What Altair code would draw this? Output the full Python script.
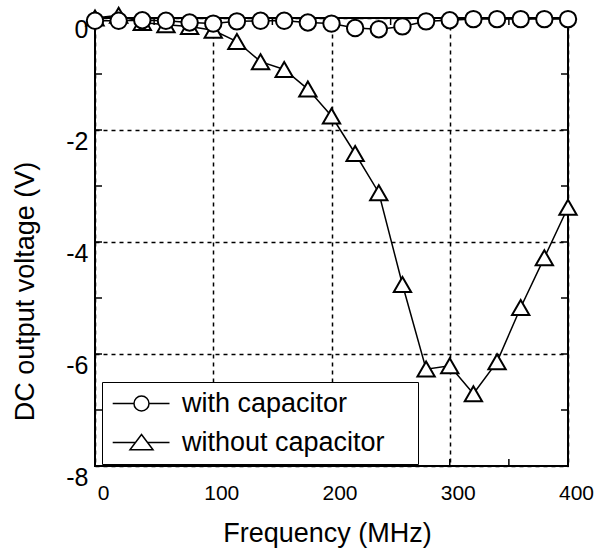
import altair as alt
import pandas as pd

# ---- data ----
freq = [0, 20, 40, 60, 80, 100, 120, 140, 160, 180, 200,
        220, 240, 260, 280, 300, 320, 340, 360, 380, 400]
with_cap = [-0.05, -0.05, -0.04, -0.05, -0.08, -0.1, -0.06, -0.05, -0.05, -0.08, -0.1,
            -0.18, -0.2, -0.15, -0.06, -0.04, -0.02, -0.02, -0.02, -0.02, -0.02]
without_cap = [0.0, 0.05, -0.08, -0.12, -0.15, -0.22, -0.42, -0.78, -0.92, -1.27, -1.75,
               -2.42, -3.12, -4.76, -6.27, -6.21, -6.71, -6.14, -5.17, -4.28, -3.38]
series_names = ["with capacitor", "without capacitor"]

x_ticks = [0, 100, 200, 300, 400]
y_ticks = [-8, -6, -4, -2, 0]
x_minor = [50, 100, 150, 200, 250, 300, 350]
y_minor = [-7, -6, -5, -4, -3, -2, -1]

# legend symbols: a line segment through the marker
circle_path = ("M -3.6 0 L -0.94 0 M 0.94 0 L 3.5 0 "
               "M 0.94 0 A 0.94 0.94 0 1 1 -0.94 0 A 0.94 0.94 0 1 1 0.94 0 Z")
triangle_path = "M -3.6 0 L -0.76 0 M 0.76 0 L 3.5 0 M 0 -1 L 1.44 0.9 L -1.44 0.9 Z"

W, H = 473, 448
FONT = "Liberation Sans"

df = pd.DataFrame({
    "freq": freq * 2,
    "v": with_cap + without_cap,
    "series": [series_names[0]] * len(freq) + [series_names[1]] * len(freq),
})
df_x = pd.DataFrame({"t": x_minor})
df_y = pd.DataFrame({"t": y_minor})

xs = alt.Scale(domain=[0, 400], nice=False, zero=False)
ys = alt.Scale(domain=[-8, 0], nice=False, zero=False)

x_axis = alt.Axis(values=x_ticks, title="Frequency (MHz)", grid=True, gridDash=[4, 4],
                  gridColor="black", gridWidth=1.5, gridOpacity=1, ticks=False, tickSize=0,
                  domain=False, labelFontSize=21, labelColor="black", labelFont=FONT,
                  labelExpr="toString(datum.value)",
                  labelPadding=33, labelBaseline="alphabetic", labelOffset=8, labelFlush=False,
                  titleFontSize=27, titleFontWeight="normal", titleColor="black", titleFont=FONT,
                  titleX=232, titleY=75, titleBaseline="alphabetic", titleAlign="center")
y_axis = alt.Axis(values=y_ticks, title="DC output voltage (V)", grid=True, gridDash=[4, 4],
                  gridColor="black", gridWidth=1.5, gridOpacity=1, ticks=False, tickSize=0,
                  domain=False, labelFontSize=25, labelColor="black", labelFont=FONT,
                  labelExpr="toString(datum.value)",
                  labelPadding=7, labelOffset=11, labelFlush=False,
                  titleFontSize=27, titleFontWeight="normal", titleColor="black", titleFont=FONT,
                  titleX=-62, titleY=273, titleBaseline="alphabetic", titleAlign="center",
                  titleAngle=270)

base = alt.Chart(df)

grid_layer = alt.Chart(df).mark_point(opacity=0).encode(
    x=alt.X("freq:Q", scale=xs, axis=x_axis),
    y=alt.Y("v:Q", scale=ys, axis=y_axis),
)

# tiny copies of the legend symbols, hidden under the real markers; they carry the legend
legend_layer = base.mark_point(
    size=1, filled=False, color="black", strokeWidth=1, opacity=1
).encode(
    x=alt.X("freq:Q", scale=xs),
    y=alt.Y("v:Q", scale=ys),
    shape=alt.Shape("series:N",
                    scale=alt.Scale(domain=series_names, range=[circle_path, triangle_path]),
                    legend=alt.Legend(title="MMM", titleOrient="right", titleColor="transparent",
                                      titleFontSize=10, titlePadding=0,
                                      orient="none", legendX=7, legendY=364,
                                      strokeColor="black", fillColor="white", padding=8,
                                      symbolSize=256, symbolOffset=18, labelOffset=27,
                                      rowPadding=11, labelFontSize=27, labelFont=FONT,
                                      labelColor="black", labelLimit=500,
                                      symbolStrokeColor="black",
                                      symbolStrokeWidth=1.5, symbolOpacity=1)),
)

lines = base.mark_line(color="black", strokeWidth=1.5).encode(
    x=alt.X("freq:Q", scale=xs),
    y=alt.Y("v:Q", scale=ys),
    detail="series:N",
)

tri_pts = base.transform_filter(alt.datum.series == series_names[1]).mark_point(
    shape="triangle-up", size=300, filled=True, fill="white", stroke="black",
    strokeWidth=2, opacity=1
).encode(x=alt.X("freq:Q", scale=xs), y=alt.Y("v:Q", scale=ys))

circ_pts = base.transform_filter(alt.datum.series == series_names[0]).mark_point(
    shape="circle", size=270, filled=True, fill="white", stroke="black",
    strokeWidth=2, opacity=1
).encode(x=alt.X("freq:Q", scale=xs), y=alt.Y("v:Q", scale=ys))

tick_bottom = alt.Chart(df_x).mark_rule(color="black", strokeWidth=1.5).encode(
    x=alt.X("t:Q", scale=xs), y=alt.value(H), y2=alt.value(H - 7))
tick_top = alt.Chart(df_x).mark_rule(color="black", strokeWidth=1.5).encode(
    x=alt.X("t:Q", scale=xs), y=alt.value(0), y2=alt.value(7))
tick_left = alt.Chart(df_y).mark_rule(color="black", strokeWidth=1.5).encode(
    y=alt.Y("t:Q", scale=ys), x=alt.value(0), x2=alt.value(7))
tick_right = alt.Chart(df_y).mark_rule(color="black", strokeWidth=1.5).encode(
    y=alt.Y("t:Q", scale=ys), x=alt.value(W), x2=alt.value(W - 7))

chart = alt.layer(
    grid_layer, tick_bottom, tick_top, tick_left, tick_right,
    legend_layer, lines, tri_pts, circ_pts
).properties(
    width=W, height=H,
    autosize=alt.AutoSizeParams(type="none"),
    padding={"left": 95, "top": 18, "right": 26, "bottom": 86},
    background="white",
).configure_view(
    stroke="black", strokeWidth=2
)

chart.save("out.html", embed_options={"renderer": "svg", "actions": False})
